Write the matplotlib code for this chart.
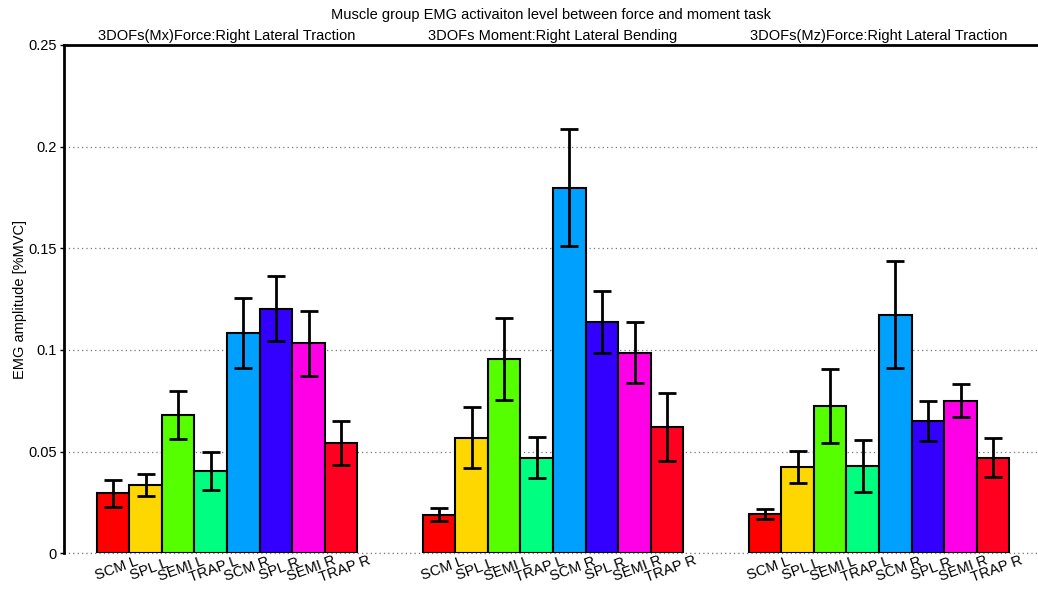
import numpy as np
import matplotlib
matplotlib.use("Agg")
from matplotlib import pyplot as plt

plt.rcParams['font.family'] = ['Liberation Sans', 'DejaVu Sans']

# DATA
muscles = ["SCM L", "SPL L", "SEMI L", "TRAP L", "SCM R", "SPL R", "SEMI R", "TRAP R"]
tasks = ["3DOFs(Mx)Force:Right Lateral Traction",
         "3DOFs Moment:Right Lateral Bending",
         "3DOFs(Mz)Force:Right Lateral Traction"]
mx_force = [0.0296, 0.0335, 0.0680, 0.0404, 0.1084, 0.1203, 0.1032, 0.0543]
mx_force_err = [0.0066, 0.0055, 0.0120, 0.0092, 0.0171, 0.0160, 0.0159, 0.0109]
moment = [0.0190, 0.0568, 0.0957, 0.0469, 0.1798, 0.1136, 0.0987, 0.0621]
moment_err = [0.0032, 0.0150, 0.0201, 0.0101, 0.0288, 0.0152, 0.0151, 0.0167]
mz_force = [0.0192, 0.0424, 0.0726, 0.0430, 0.1174, 0.0652, 0.0750, 0.0471]
mz_force_err = [0.0025, 0.0078, 0.0182, 0.0128, 0.0265, 0.0099, 0.0081, 0.0098]

colors = ["#ff0000", "#ffd700", "#55ff00", "#00ff80",
          "#00a0ff", "#3300ff", "#ff00e6", "#ff0020"]


def main():
    fig = plt.figure(figsize=(10.38, 5.92), dpi=100)
    ax = fig.add_axes([64 / 1038, 38.7 / 592, (1042 - 64) / 1038, (553.3 - 45) / 592])

    values = np.array([mx_force, moment, mz_force])
    errors = np.array([mx_force_err, moment_err, mz_force_err])
    groups = np.arange(1, len(tasks) + 1)
    n = len(muscles)
    width = 0.8 / n

    for i in range(n):
        x = groups - 0.4 + width * (i + 0.5)
        ax.bar(x, values[:, i], width, color=colors[i], edgecolor="black",
               linewidth=1.5, zorder=2)
        ax.errorbar(x, values[:, i], yerr=errors[:, i], fmt="none", ecolor="black",
                    elinewidth=2, capsize=6.5, capthick=2, zorder=3)
        for xi in x:
            ax.text(xi + 0.003, -0.0045, muscles[i], rotation=20, rotation_mode="anchor",
                    ha="center", va="top", fontsize=10.5)

    for g, title in zip(groups, tasks):
        ax.text(g, 0.2508, title, ha="center", va="bottom", fontsize=10.5)

    ax.set_xlim(0.5, 3.5)
    ax.set_ylim(0, 0.25)
    ax.set_xticks([])
    ax.set_yticks([0, 0.05, 0.1, 0.15, 0.2, 0.25])
    ax.set_yticklabels(["0", "0.05", "0.1", "0.15", "0.2", "0.25"], fontsize=10.5)
    ax.tick_params(axis="y", length=3, width=1, pad=2)
    ax.yaxis.grid(True, linestyle=(0, (1, 2.5)), color="#777777", linewidth=0.9, zorder=0)
    ax.axhline(0, linestyle=(0, (1, 2.5)), color="#777777", linewidth=0.9, zorder=1,
               clip_on=False)
    ax.set_axisbelow(True)
    ax.spines["bottom"].set_visible(False)
    ax.spines["right"].set_visible(False)
    ax.spines["left"].set_linewidth(2)
    ax.spines["top"].set_linewidth(2)
    ax.set_ylabel("EMG amplitude [%MVC]", fontsize=10.5, labelpad=1)

    fig.text(551 / 1038, 1 - 15 / 592, "Muscle group EMG activaiton level between force and moment task",
             ha="center", va="center", fontsize=10.5)

    fig.savefig("out.png", dpi=100)


if __name__ == '__main__':
    main()
